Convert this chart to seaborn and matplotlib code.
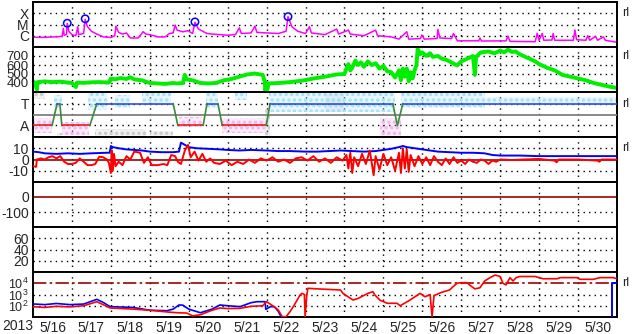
import numpy as np
import pandas as pd
import seaborn as sns
import matplotlib
matplotlib.use("Agg")
import matplotlib.pyplot as plt
import matplotlib.transforms as mtransforms

# ---------------- data (time = day of May 2013, fractional) ----------------
xray_t = [16.00, 16.20, 16.40, 16.60, 16.75, 16.78, 16.80, 16.86, 16.88, 16.92, 17.00, 17.10, 17.15, 17.17,
          17.30, 17.34, 17.40, 17.50, 17.64, 17.80, 18.00, 18.10, 18.13, 18.20, 18.30, 18.40, 18.50, 18.70,
          18.83, 18.90, 19.00, 19.20, 19.40, 19.50, 19.60, 19.65, 19.70, 19.85, 19.98, 20.10, 20.16, 20.25,
          20.47, 20.60, 20.80, 21.00, 21.20, 21.30, 21.35, 21.60, 21.70, 21.75, 22.00, 22.30, 22.50, 22.55,
          22.65, 22.80, 23.00, 23.10, 23.15, 23.50, 23.80, 23.85, 24.10, 24.15, 24.50, 24.80, 24.85, 25.20,
          25.40, 25.60, 25.65, 25.95, 25.99, 26.05, 26.38, 26.40, 26.45, 26.75, 26.80, 26.90, 27.45, 27.48,
          27.52, 28.15, 28.20, 28.25, 28.90, 28.95, 29.00, 29.08, 29.12, 29.33, 29.36, 29.40, 29.88, 29.92,
          29.96, 30.20, 30.25, 30.30, 30.45, 30.50, 30.65, 30.70, 31.00]
xray_log = [-6.12, -6.15, -6.12, -6.10, -6.05, -5.35, -5.95, -5.90, -4.90, -5.60, -5.90, -6.00, -5.20, -5.90,
            -5.80, -4.55, -5.20, -5.60, -5.85, -6.10, -6.15, -6.00, -5.15, -5.70, -5.85, -5.75, -6.20, -6.20,
            -5.64, -5.85, -5.90, -6.10, -6.10, -5.80, -5.75, -5.05, -5.50, -5.65, -5.55, -5.80, -4.80, -5.40,
            -5.80, -5.85, -5.90, -5.95, -5.90, -5.30, -5.80, -5.75, -5.15, -5.70, -5.75, -5.80, -5.60, -4.30,
            -5.20, -5.60, -5.80, -5.20, -5.75, -5.90, -5.40, -5.85, -5.50, -5.85, -6.00, -5.50, -6.00, -6.10,
            -6.30, -5.64, -6.30, -6.25, -5.93, -6.30, -6.25, -5.43, -6.20, -6.25, -5.80, -6.45, -6.45, -6.20,
            -6.47, -6.45, -6.02, -6.50, -6.53, -5.78, -6.40, -5.80, -6.40, -6.38, -5.80, -6.40, -6.40, -5.49,
            -6.35, -6.40, -6.00, -6.40, -6.05, -6.40, -6.10, -6.40, -6.58]
flare_t = [16.88, 17.34, 20.16, 22.55]
flare_peak = [1.3e-5, 3.2e-5, 1.7e-5, 5.0e-5]

wind_t = [16.00, 16.05, 16.10, 16.12, 16.30, 16.50, 16.70, 16.90, 17.00, 17.10, 17.13, 17.30, 17.50, 17.70,
          17.95, 18.00, 18.10, 18.25, 18.40, 18.50, 18.60, 18.80, 19.00, 19.20, 19.40, 19.60, 19.70, 19.85,
          19.90, 19.95, 20.10, 20.30, 20.50, 20.70, 20.90, 21.10, 21.30, 21.50, 21.70, 21.90, 21.95, 21.97,
          22.00, 22.02, 22.05, 22.30, 22.60, 22.90, 23.20, 23.50, 23.80, 24.00, 24.05, 24.10, 24.15, 24.20,
          24.28, 24.35, 24.42, 24.50, 24.60, 24.70, 24.80, 24.90, 25.00, 25.10, 25.20, 25.30, 25.40, 25.45,
          25.50, 25.55, 25.60, 25.65, 25.70, 25.75, 25.80, 25.85, 25.88, 25.95, 26.00, 26.10, 26.20, 26.27,
          26.40, 26.50, 26.60, 26.70, 26.89, 27.00, 27.10, 27.20, 27.30, 27.35, 27.38, 27.50, 27.70, 27.85,
          28.00, 28.10, 28.20, 28.30, 28.40, 28.50, 28.70, 28.90, 29.00, 29.20, 29.40, 29.60, 29.80, 30.00,
          30.20, 30.40, 30.60, 30.80, 31.00]
wind_speed = [415, 405, 325, 410, 418, 410, 415, 405, 400, 355, 405, 402, 408, 410,
              405, 450, 440, 455, 445, 465, 440, 430, 400, 395, 390, 400, 395, 400,
              490, 440, 430, 400, 395, 400, 430, 445, 470, 495, 505, 490, 420, 310,
              400, 330, 395, 400, 410, 425, 450, 470, 495, 500, 560, 610, 540, 570,
              650, 600, 630, 580, 640, 600, 620, 560, 590, 530, 520, 460, 540, 430,
              560, 470, 560, 420, 520, 450, 540, 600, 780, 720, 740, 700, 730, 690,
              700, 670, 660, 640, 595, 640, 660, 680, 700, 490, 690, 740, 750, 730,
              760, 740, 770, 745, 750, 720, 680, 640, 610, 570, 540, 490, 470, 450,
              430, 400, 380, 360, 345]

sector_t = [16.00, 16.49, 16.62, 16.69, 16.74, 17.46, 17.64, 19.60, 19.72, 20.37, 20.47, 20.75, 20.86,
            21.99, 22.09, 25.24, 25.36, 25.50, 31.00]
sector_v = [-1, -1, 1, 1, -1, -1, 1, 1, -1, -1, 1, 1, -1, -1, 1, 1, -1, 1, 1]
# angle clouds: start, end, low, high (sector units)
cyan_start = [16.55, 17.40, 18.10, 18.80, 20.45, 21.20, 22.05, 25.45, 27.60]
cyan_end = [16.75, 17.90, 18.50, 19.55, 20.75, 21.50, 25.30, 27.60, 31.00]
cyan_lo = [0.6, 0.4, 0.6, 0.85, 0.6, 1.3, 0.25, 0.6, 0.85]
cyan_hi = [1.8, 2.0, 1.8, 2.0, 2.0, 2.0, 1.95, 1.95, 1.6]
pink_start = [16.00, 16.75, 19.75, 20.85, 24.90]
pink_end = [16.50, 17.45, 20.35, 21.95, 25.45]
pink_lo = [-1.7, -1.85, -1.15, -1.7, -2.0]
pink_hi = [-0.3, -0.65, -0.25, -0.3, -0.3]
gray_start = [16.00, 16.62, 17.60, 19.00, 21.95, 23.50]
gray_end = [16.30, 16.75, 18.90, 19.60, 22.10, 24.00]
gray_lo = [1.4, -2.0, -2.0, -2.0, -2.0, 0.2]
gray_hi = [2.0, -1.7, -1.3, -1.5, 0.5, 1.9]

bt_t = [16.00, 16.15, 16.30, 16.60, 16.90, 17.20, 17.50, 17.90, 17.97, 18.00, 18.05, 18.20, 18.40, 18.60,
        18.80, 19.00, 19.30, 19.60, 19.75, 19.80, 19.90, 20.00, 20.20, 20.50, 20.80, 21.00, 21.30, 21.60,
        22.00, 22.30, 22.60, 23.00, 23.30, 23.60, 23.90, 24.20, 24.50, 24.80, 25.00, 25.20, 25.40, 25.50,
        25.60, 25.80, 26.00, 26.20, 26.40, 26.70, 27.00, 27.30, 27.60, 27.80, 28.00, 28.50, 29.00, 29.50,
        30.00, 30.50, 31.00]
bt = [7, 6.5, 5.5, 5, 5.5, 5, 5.5, 6, 6, 12, 11, 10, 9, 8.5,
      8, 7, 6.5, 6.5, 7, 15, 13, 11, 10, 9.5, 9, 8.5, 8, 8.5,
      8, 7.5, 7.5, 7, 7, 7.5, 8, 7.5, 7, 7.5, 8.5, 9.5, 11, 12,
      11, 10, 9, 8, 7, 6.5, 6, 6, 5.5, 4, 3.5, 3.5, 3, 3,
      3, 3, 3]
bz_t = [16.00, 16.08, 16.10, 16.20, 16.30, 16.40, 16.50, 16.60, 16.70, 16.80, 16.90, 17.00, 17.10, 17.20,
        17.30, 17.40, 17.50, 17.60, 17.70, 17.80, 17.90, 17.95, 18.00, 18.02, 18.05, 18.08, 18.12, 18.20,
        18.30, 18.40, 18.50, 18.60, 18.75, 18.85, 18.95, 19.05, 19.20, 19.35, 19.45, 19.55, 19.65, 19.72,
        19.80, 19.90, 19.98, 20.05, 20.15, 20.25, 20.35, 20.45, 20.55, 20.65, 20.80, 20.95, 21.10, 21.25,
        21.40, 21.55, 21.70, 21.85, 22.00, 22.15, 22.30, 22.45, 22.60, 22.75, 22.90, 23.05, 23.20, 23.35,
        23.50, 23.65, 23.80, 23.95, 24.05, 24.10, 24.15, 24.20, 24.25, 24.35, 24.45, 24.55, 24.65, 24.75,
        24.80, 24.90, 25.00, 25.10, 25.20, 25.30, 25.40, 25.45, 25.50, 25.55, 25.60, 25.65, 25.70, 25.80,
        25.90, 26.00, 26.10, 26.20, 26.30, 26.40, 26.50, 26.60, 26.70, 26.80, 26.90, 27.00, 27.10, 27.20,
        27.30, 27.40, 27.50, 27.60, 27.70, 27.80, 27.90, 28.00, 28.30, 28.60, 29.00, 29.40, 29.45, 29.50,
        30.00, 30.50, 30.55, 30.60, 31.00]
bz = [-6, -6.5, 0, 1, 0, 2, 3, 1, 3, -2, -4, -4, -3, 1,
      -2, -5, -5, -4, 2.5, 2, 0, -3, -12, 8, -10, 5, -6, -2,
      -5, 3, 0, 7, 6, -3, 2, -5, -5, -4, -5, 4, 3, -2,
      -4, 8, 13, 2, 7, -1, 5, -2, 1, -3, -4, -1, -5, -2,
      -4, 0, -3, 1, -1, 2, -2, 0, -3, 1, 2, -1, 3, -2,
      1, -3, 2, -1, 4, -8, 6, -12, 2, -6, 5, -4, 8, -14,
      3, -9, 5, -5, 2, -10, 6, -12, 10, -8, 9, -11, 4, -6,
      3, -4, 2, -5, 3, -2, -5, 1, -4, 2, -3, -1, -4, 0,
      -2, -3, 0, -1, -4, -1, -2, 0, -0.5, 0, 0.5, -1, -2.5, 0,
      0, -1, -2, 0, 0]

elec_t = [16.00, 16.30, 16.60, 16.95, 17.30, 17.64, 17.80, 17.98, 18.30, 18.57, 19.00, 19.44, 19.70, 19.95,
          20.10, 20.30, 20.60, 20.80, 21.00, 21.32, 21.60, 21.90, 22.00, 22.20, 22.30, 22.40, 22.50, 22.60,
          22.70, 22.86, 22.91, 22.97, 22.99, 23.03, 23.06, 23.30, 23.60, 23.90, 23.96, 24.22, 24.35, 24.60,
          24.73, 24.78, 24.91, 25.10, 25.35, 25.43, 25.68, 25.94, 26.07, 26.20, 26.25, 26.30, 26.50, 26.70,
          26.76, 26.89, 27.00, 27.15, 27.23, 27.35, 27.48, 27.60, 27.74, 27.87, 28.00, 28.07, 28.15, 28.25,
          28.33, 28.41, 28.50, 28.90, 29.10, 29.46, 29.54, 29.97, 30.05, 30.39, 30.56, 30.90, 31.00]
elec_log = [1.92, 1.85, 1.95, 1.90, 2.00, 2.36, 2.10, 1.80, 1.75, 1.70, 1.60, 1.45, 1.38, 1.35,
            1.10, 1.20, 1.60, 1.80, 1.75, 1.77, 1.95, 2.00, 2.36, 1.90, 1.62, 1.03, 1.03, 1.47,
            2.00, 2.96, 3.10, 3.00, 1.03, 2.90, 3.55, 3.50, 3.45, 3.40, 3.10, 2.51, 2.65, 3.10,
            3.25, 2.96, 2.50, 2.22, 2.22, 2.00, 2.50, 3.10, 2.80, 3.00, 1.03, 2.90, 3.20, 3.40,
            3.60, 4.00, 4.05, 4.05, 3.80, 3.50, 3.60, 4.20, 4.50, 4.73, 4.60, 4.00, 3.85, 4.50,
            4.20, 4.50, 4.60, 4.60, 4.40, 4.40, 4.50, 4.50, 4.35, 4.35, 4.50, 4.50, 4.40]
prot_t1 = [16.00, 16.30, 16.60, 16.95, 17.30, 17.64, 17.80, 17.98, 18.57, 19.00, 19.44, 19.60, 19.75, 19.85,
           20.00, 20.30, 20.60, 20.80, 21.00, 21.32, 21.60, 21.75, 21.96, 21.98, 22.10, 22.20, 22.30, 22.37]
prot_log1 = [2.16, 2.10, 2.20, 2.10, 2.15, 2.57, 2.30, 1.92, 1.85, 1.60, 1.56, 1.70, 2.07, 2.05,
             1.70, 1.38, 1.70, 2.07, 2.00, 1.92, 2.27, 2.36, 2.36, 1.68, 1.92, 1.92, 1.50, 1.03]
prot_t2 = [30.87, 30.87, 31.00]
prot_log2 = [1.03, 4.05, 4.05]

tick_pos = [16.5, 17.5, 18.5, 19.5, 20.5, 21.5, 22.5, 23.5, 24.5, 25.5, 26.5, 27.5, 28.5, 29.5, 30.5]
tick_lab = ["5/16", "5/17", "5/18", "5/19", "5/20", "5/21", "5/22", "5/23", "5/24", "5/25", "5/26",
            "5/27", "5/28", "5/29", "5/30"]
day_lines = [17, 18, 19, 20, 21, 22, 23, 24, 25, 26, 27, 28, 29, 30]

# ---------------- style ----------------
sns.set_style("white")
plt.rcParams['font.family'] = ['Liberation Sans', 'DejaVu Sans']
plt.rcParams['mathtext.fontset'] = 'custom'
plt.rcParams['mathtext.rm'] = 'Liberation Sans'
plt.rcParams['mathtext.it'] = 'Liberation Sans'
plt.rcParams['hatch.linewidth'] = 1.6
FS = 10

fig, axes = plt.subplots(7, 1, figsize=(6.33, 3.34), dpi=100, sharex=True)
fig.subplots_adjust(left=33/633, right=617/633, top=1-2/334, bottom=1-317/334, hspace=0)

DOT = (0, (1, 3))
DARKRED = '#a00000'


def frame(ax, ylim, yt, ylab, dotted, log=False, fs=FS):
    if log:
        ax.set_yscale('log')
    ax.set_ylim(*ylim)
    ax.set_xlim(16, 31)
    ax.set_yticks(yt)
    ax.set_yticklabels(ylab, fontsize=fs)
    ax.minorticks_off()
    ax.tick_params(axis='y', length=0, pad=3)
    ax.tick_params(axis='x', length=0, pad=3)
    for s in ax.spines.values():
        s.set_color('black')
        s.set_linewidth(1.4)
    for d in day_lines:
        ax.axvline(d, color='black', lw=1.0, ls=DOT, zorder=1)
    for h in dotted:
        ax.axhline(h, color='black', lw=1.0, ls=DOT, zorder=1)


def rl(ax, yv):
    tr = mtransforms.blended_transform_factory(ax.transAxes, ax.transData)
    ax.text(1.008, yv, "rl", transform=tr, fontsize=9, va='center', ha='left')


def cloud(ax, starts, ends, los, his, col):
    for s, e, lo, hi in zip(starts, ends, los, his):
        ax.fill_between([s, e], [lo, lo], [hi, hi], color=col, alpha=0.25, lw=0, zorder=2)
        ax.fill_between([s, e], [lo, lo], [hi, hi], facecolor='none', edgecolor=col, hatch='...',
                        lw=0, zorder=2)


# panel 1: X-ray
ax = axes[0]
frame(ax, (1e-7, 1e-3), [1e-4, 1e-5, 1e-6], ["X", "M", "C"], [1e-4, 1e-5, 1e-6], log=True)
xdf = pd.DataFrame({"t": xray_t, "flux": np.power(10.0, xray_log)})
sns.lineplot(data=xdf, x="t", y="flux", ax=ax, color='#ff00ff', lw=1.1, estimator=None, sort=False)
sns.scatterplot(x=flare_t, y=flare_peak, ax=ax, s=28, facecolor='none', edgecolor='#0000ff', linewidth=1.1, zorder=5)
rl(ax, 1e-4)

# panel 2: solar wind speed
ax = axes[1]
frame(ax, (300, 800), [400, 500, 600, 700], ["400", "500", "600", "700"], [400, 500, 600, 700], fs=9.5)
sns.lineplot(x=wind_t, y=wind_speed, ax=ax, color='#00ee00', lw=2.8, estimator=None, sort=False)
rl(ax, 700)

# panel 3: sector
ax = axes[2]
frame(ax, (-2.05, 2.05), [1, -1], ["T", "A"], [1, -1])
cloud(ax, gray_start, gray_end, gray_lo, gray_hi, '#c8c8c8')
cloud(ax, cyan_start, cyan_end, cyan_lo, cyan_hi, '#a0e0fa')
cloud(ax, pink_start, pink_end, pink_lo, pink_hi, '#f5b0ee')
ax.axhline(0, color='#808080', lw=1.3, zorder=3)
for i in range(len(sector_t) - 1):
    v0, v1 = sector_v[i], sector_v[i + 1]
    if v0 == v1:
        col = '#e82020' if v0 < 0 else '#3050e0'
    else:
        col = '#3a8a3a'
    sns.lineplot(x=[sector_t[i], sector_t[i + 1]], y=[v0, v1], ax=ax, color=col, lw=1.2,
                 estimator=None, sort=False, zorder=4)
rl(ax, 1)

# panel 4: IMF
ax = axes[3]
frame(ax, (-20, 20), [10, 0, -10], ["10", "0", "-10"], [10, -10])
ax.axhline(0, color=DARKRED, lw=1.2, zorder=2)
sns.lineplot(x=bt_t, y=bt, ax=ax, color='#0000ff', lw=1.4, estimator=None, sort=False, zorder=3)
sns.lineplot(x=bz_t, y=bz, ax=ax, color='#ff0000', lw=1.4, estimator=None, sort=False, zorder=4)
rl(ax, 10)

# panel 5: Dst
ax = axes[4]
frame(ax, (-200, 100), [0, -100], ["0", "-100"], [-100])
ax.axhline(0, color=DARKRED, lw=1.2, zorder=2)

# panel 6: Kp
ax = axes[5]
frame(ax, (0, 80), [60, 40, 20], ["60", "40", "20"], [60, 40, 20])

# panel 7: particle flux
ax = axes[6]
frame(ax, (10, 1e5), [1e4, 1e3, 1e2], [r"$10^4$", r"$10^3$", r"$10^2$"], [1e3, 1e2], log=True, fs=9)
ax.axhline(1e4, color=DARKRED, lw=1.2, ls=(0, (8, 2, 1.5, 2)), zorder=2)
sns.lineplot(x=prot_t1, y=np.power(10.0, prot_log1), ax=ax, color='#0000ff', lw=1.2, estimator=None, sort=False, zorder=3)
sns.lineplot(x=prot_t2, y=np.power(10.0, prot_log2), ax=ax, color='#0000ff', lw=1.4, estimator=None, sort=False, zorder=3)
sns.lineplot(x=elec_t, y=np.power(10.0, elec_log), ax=ax, color='#ff0000', lw=1.2, estimator=None, sort=False, zorder=4)
rl(ax, 1e4)
ax.set_xticks(tick_pos)
ax.set_xticklabels(tick_lab, fontsize=FS)

for a in axes:
    a.set_xlabel("")
    a.set_ylabel("")
    leg = a.get_legend()
    if leg:
        leg.remove()

fig.text(2/633, 1 - 326/334, "2013", fontsize=FS, ha='left', va='center')

fig.savefig("out.png", dpi=100)
